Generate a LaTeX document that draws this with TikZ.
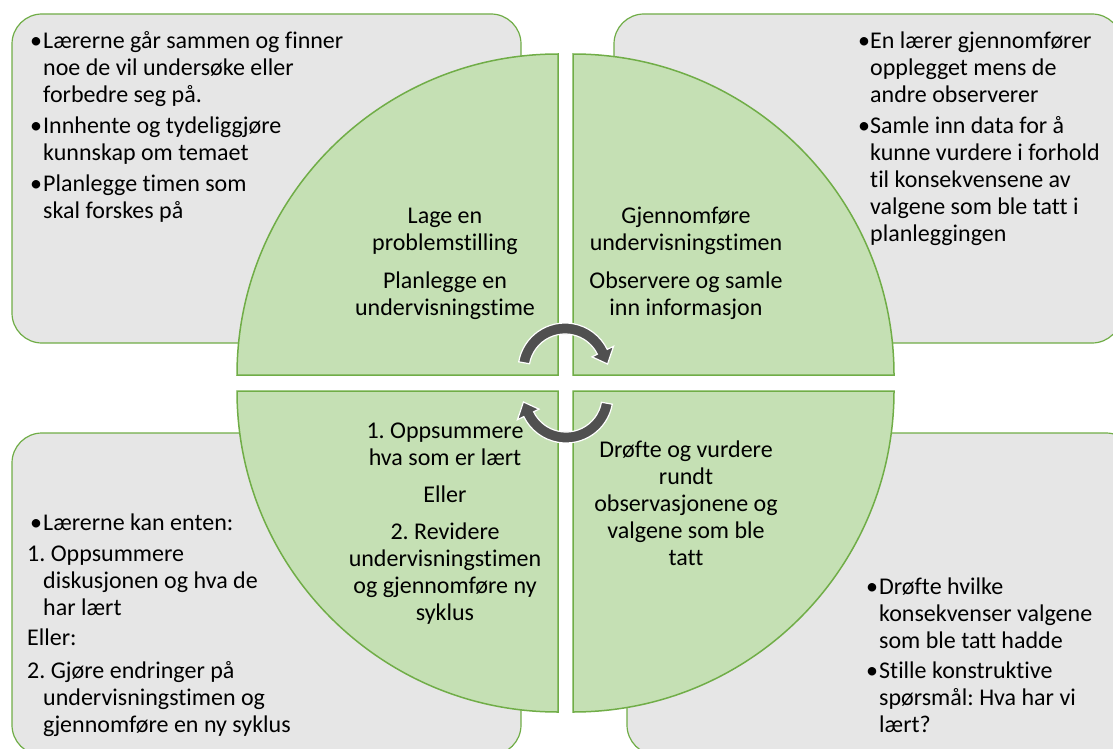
\documentclass[tikz,border=0pt]{standalone}
\usepackage{fontspec}
\setmainfont{Carlito}[Ligatures=NoCommon]
\frenchspacing
\usetikzlibrary{calc}
\definecolor{boxfill}{HTML}{E6E6E6}
\definecolor{rim}{HTML}{70AD47}
\definecolor{leaf}{HTML}{C5E0B4}
\definecolor{arrowgray}{HTML}{505050}
\newcommand\bulletmark[1][13pt]{\makebox[#1][l]{•}}
\newcommand\carry[1][13pt]{\hspace*{#1}}
\begin{document}
\begin{tikzpicture}[x=1pt,y=-1pt,
  notebox/.style={fill=boxfill, draw=rim, line width=1.2pt, rounded corners=30pt},
  quarter/.style={fill=leaf, draw=rim, line width=1.5pt},
  turn/.style={fill=arrowgray, draw=white, line width=1.2pt},
  body/.style={inner sep=0pt, font=\fontsize{24}{27}\selectfont, text=black},
  ]
\useasboundingbox (0,0) rectangle (1113,749);

% grey note panels behind the wheel
\path[notebox] (12,14) rectangle (521,343);
\path[notebox] (614,14) rectangle (1122,343);
\path[notebox] (12,433) rectangle (521,755);
\path[notebox] (627,433) rectangle (1136,755);

% the four quarters of the wheel
\path[quarter] (558,375) -- (237,375) arc[start angle=180, end angle=270, radius=321] -- cycle;
\path[quarter] (573,375) -- (573,54) arc[start angle=270, end angle=360, radius=321] -- cycle;
\path[quarter] (573,391) -- (894,391) arc[start angle=0, end angle=90, radius=321] -- cycle;
\path[quarter] (558,391) -- (558,712) arc[start angle=90, end angle=180, radius=321] -- cycle;

% circular arrows in the middle
\coordinate (T) at (565,370);
\coordinate (B) at (566,396);
\path[turn] ($(T)+(190:47)$) arc[start angle=190, end angle=334, radius=47]
  -- ($(T)+(334:54)$) -- ($(T)+(352:43)$) -- ($(T)+(334:30)$) -- ($(T)+(334:36)$)
  arc[start angle=334, end angle=190, radius=36] -- cycle;
\path[turn] ($(B)+(10:47)$) arc[start angle=10, end angle=154, radius=47]
  -- ($(B)+(154:54)$) -- ($(B)+(172:43)$) -- ($(B)+(154:30)$) -- ($(B)+(154:36)$)
  arc[start angle=154, end angle=10, radius=36] -- cycle;

% texts in the quarters
\node[body, anchor=north, align=center] (plan) at (445,204)
  {\strut Lage en\\ problemstilling\\[11pt] Planlegge en\\ undervisningstime};
\node[body, anchor=north, align=center] (teach) at (686,204)
  {\strut Gjennomføre\\ undervisningstimen\\[11pt] Observere og samle\\ inn informasjon};
\node[body, anchor=north, align=center] (discuss) at (686,438)
  {\strut Drøfte og vurdere\\ rundt\\ observasjonene og\\ valgene som ble\\ tatt};
\node[body, anchor=north, align=center] (revise) at (445,419)
  {\strut 1. Oppsummere\\ hva som er lært\\[10pt] Eller\\[10pt] 2. Revidere\\ undervisningstimen\\ og gjennomføre ny\\ syklus};

% texts in the note panels
\node[body, anchor=north west, align=left] (plannote) at (30,29)
  {\strut\bulletmark Lærerne går sammen og finner\\
   \carry noe de vil undersøke eller\\
   \carry forbedre seg på.\\[4pt]
   \bulletmark Innhente og tydeliggjøre\\
   \carry kunnskap om temaet\\[4pt]
   \bulletmark Planlegge timen som\\
   \carry skal forskes på};
\node[body, anchor=north west, align=left] (teachnote) at (858,29)
  {\strut\bulletmark[12pt]En lærer gjennomfører\\
   \carry[12pt]opplegget mens de\\
   \carry[12pt]andre observerer\\[4pt]
   \bulletmark[12pt]Samle inn data for å\\
   \carry[12pt]kunne vurdere i forhold\\
   \carry[12pt]til konsekvensene av\\
   \carry[12pt]valgene som ble tatt i\\
   \carry[12pt]planleggingen};
\node[body, anchor=north west, align=left] (revisenote) at (27,511)
  {\strut\hspace*{3pt}\bulletmark Lærerne kan enten:\\[4pt]
   1. Oppsummere\\
   \carry[16pt]diskusjonen og hva de\\
   \carry[16pt]har lært\\[3pt]
   Eller:\\[6pt]
   2. Gjøre endringer på\\
   \carry[16pt]undervisningstimen og\\
   \carry[16pt]gjennomføre en ny syklus};
\node[body, anchor=north west, align=left] (discussnote) at (866,575)
  {\strut\bulletmark Drøfte hvilke\\
   \carry konsekvenser valgene\\
   \carry som ble tatt hadde\\[3pt]
   \bulletmark Stille konstruktive\\
   \carry spørsmål: Hva har vi\\
   \carry lært?};
\end{tikzpicture}
\end{document}
